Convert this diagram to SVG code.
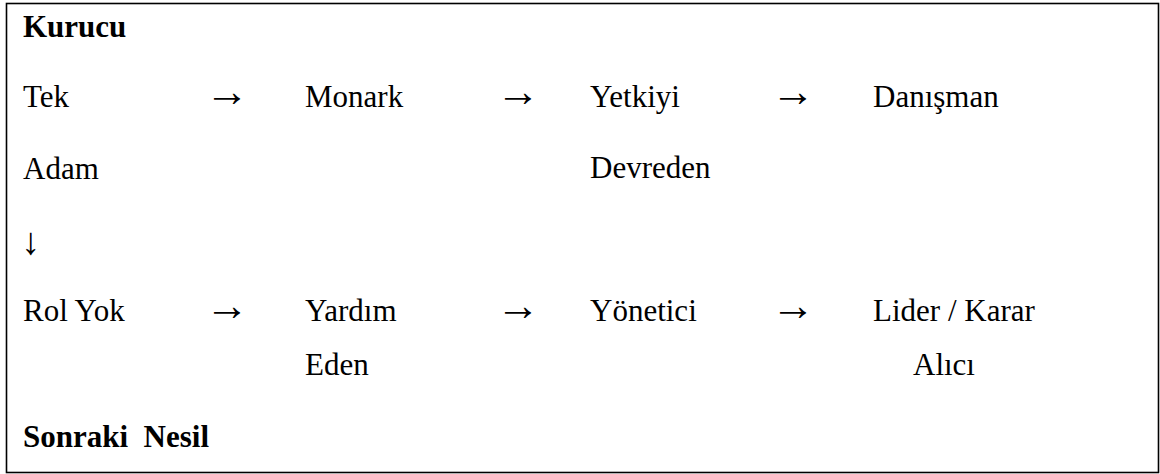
<svg xmlns="http://www.w3.org/2000/svg" width="1160" height="474" viewBox="0 0 1160 474">
<style>
text { font-family: "Liberation Serif", "Times New Roman", serif; font-size: 31px; fill: #000; }
.b { font-weight: bold; }
.arr { font-size: 44px; }
.darr { font-size: 38px; }
.frame { fill: #fff; stroke: #000; stroke-width: 1.6; }
</style>
<rect x="0" y="0" width="1160" height="474" fill="#fff"/>
<rect class="frame" x="6.5" y="3.5" width="1152" height="469"/>
<g id="title-top"><text class="b" x="23" y="37">Kurucu</text></g>
<g id="node-tek-adam"><text x="23" y="107">Tek</text><text x="23" y="179">Adam</text></g>
<g id="node-monark"><text x="305" y="107">Monark</text></g>
<g id="node-yetkiyi-devreden"><text x="590" y="107">Yetkiyi</text><text x="590" y="178">Devreden</text></g>
<g id="node-danisman"><text x="873" y="107">Danışman</text></g>
<g id="node-rol-yok"><text x="23" y="321">Rol Yok</text></g>
<g id="node-yardim-eden"><text x="305" y="321">Yardım</text><text x="305" y="375">Eden</text></g>
<g id="node-yonetici"><text x="590" y="321">Yönetici</text></g>
<g id="node-lider"><text x="873" y="321">Lider / Karar</text><text x="913" y="375">Alıcı</text></g>
<g id="title-bottom"><text class="b" x="23" y="447" style="white-space:pre">Sonraki  Nesil</text></g>
<g id="connectors">
<text class="arr" x="205" y="106">→</text>
<text class="arr" x="496" y="106">→</text>
<text class="arr" x="771" y="106">→</text>
<text class="darr" x="21" y="254">↓</text>
<text class="arr" x="205" y="320">→</text>
<text class="arr" x="496" y="320">→</text>
<text class="arr" x="771" y="320">→</text>
</g>
</svg>
